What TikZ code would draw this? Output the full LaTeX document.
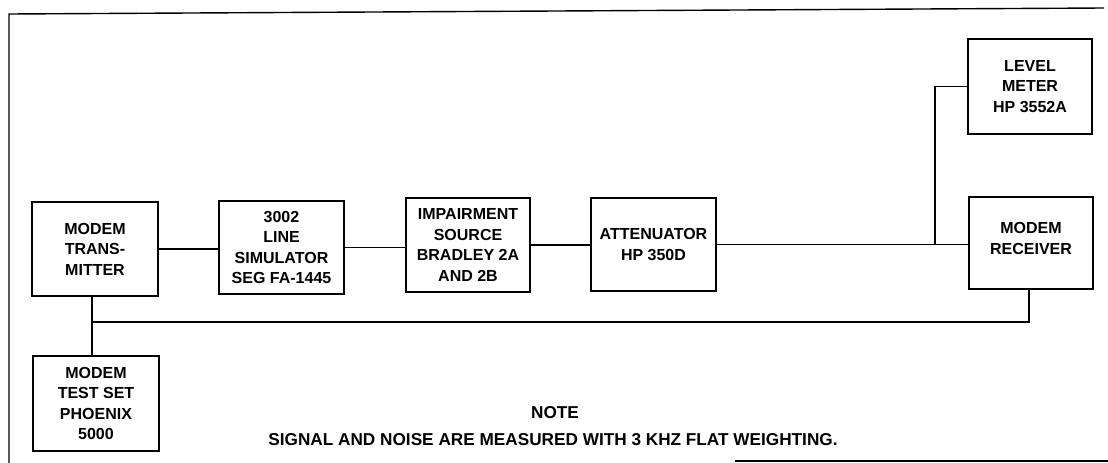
\documentclass[tikz,border=0pt]{standalone}
\usepackage{fontspec}
\setmainfont{Liberation Sans}
\usetikzlibrary{calc}
\tikzset{
  blk/.style={draw, line width=1.8pt, inner sep=0pt, align=center,
    font=\fontsize{16}{20.5}\selectfont\bfseries},
  wire/.style={line width=1.7pt},
  frame/.style={line width=1.4pt},
  txt/.style={font=\fontsize{17.2}{20}\selectfont\bfseries, inner sep=0pt}
}
\begin{document}
\begin{tikzpicture}[x=1pt,y=-1pt]
\useasboundingbox (0,0) rectangle (1108,463);
% frame
\coordinate (f1) at (9,463);
\coordinate (f2) at (9,14);
\coordinate (f3) at (1104,8);
\coordinate (f4) at (735,461);
\coordinate (f5) at (1108,461);
\draw[frame] (f1) -- (f2) -- (f3);
\draw[frame] (f4) -- (f5);
% blocks
\node[blk, minimum width=126pt, minimum height=94pt] (tx) at (95,249) {MODEM\\TRANS-\\MITTER};
\node[blk, minimum width=125pt, minimum height=93pt] (sim) at (281.5,247.5) {3002\\LINE\\SIMULATOR\\SEG FA-1445};
\node[blk, minimum width=124pt, minimum height=94pt] (imp) at (468,245) {IMPAIRMENT\\SOURCE\\BRADLEY 2A\\AND 2B};
\node[blk, minimum width=125pt, minimum height=93pt] (att) at (653.5,244.5) {ATTENUATOR\\HP 350D};
\node[blk, minimum width=124pt, minimum height=95pt] (lm) at (1030,86.5) {LEVEL\\METER\\HP 3552A};
\node[blk, minimum width=124pt, minimum height=92pt] (rx) at (1031,243) {};
\node[blk, draw=none] (rxt) at (1031,238.5) {MODEM\\RECEIVER};
\node[blk, minimum width=126pt, minimum height=95pt] (ts) at (96,403.5) {MODEM\\TEST SET\\PHOENIX\\5000};
% connectors
\draw[wire] (tx.east) -- (tx.east -| sim.west);
\draw[wire] (sim.east) -- (sim.east -| imp.west);
\draw[wire] (imp.east) -- (imp.east -| att.west);
\draw[wire] (att.east) -- (att.east -| rx.west);
\coordinate (jx) at (935,0);
\draw[wire] (att.east -| jx) |- (lm.west);
\coordinate (b) at (92,322);
\coordinate (rxb) at (1029,0);
\draw[wire] (tx.south -| b) -- (ts.north -| b);
\draw[wire] (b) -| (rx.south -| rxb);
% note
\node[txt] (note) at (555,413) {NOTE};
\node[txt] (sig) at (553,440) {SIGNAL AND NOISE ARE MEASURED WITH 3 KHZ FLAT WEIGHTING.};
\end{tikzpicture}
\end{document}
